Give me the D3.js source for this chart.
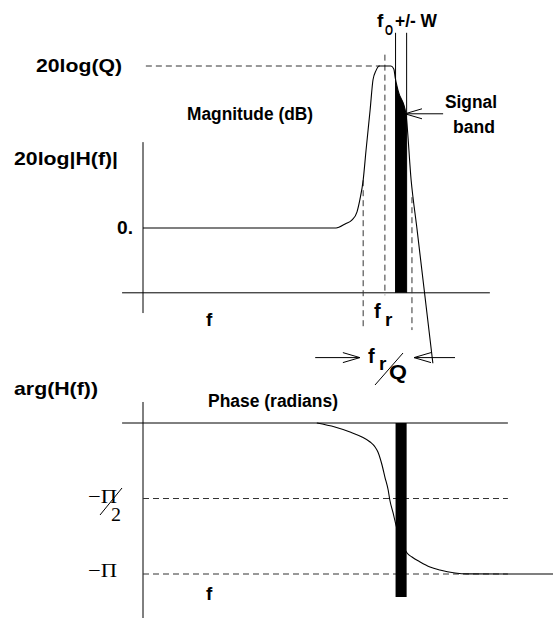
<!DOCTYPE html>
<html>
<head>
<meta charset="utf-8">
<script src="https://cdn.jsdelivr.net/npm/d3@7"></script>
<style>
body { margin: 0; background: #fff; }
text { font-family: "Liberation Sans", Arial, Helvetica, sans-serif; font-weight: bold; fill: #000; }
text.serif { font-family: "Liberation Serif", "Times New Roman", serif; font-weight: normal; }
</style>
</head>
<body>
<div id="graphic"></div>
<script>
// magnitude response, f in arbitrary units, value in dB
var magF  = [0, 47.1, 49.3, 51.0, 52.2, 52.9, 53.7, 54.4, 55.4, 56.1, 56.8, 57.6, 60.5, 61.2, 61.5, 62.2, 64.1, 65.4, 66.8, 70.7];
var magDb = [0, 0, 0.5, 1.0, 2.0, 3.5, 5.9, 9.6, 14.6, 18.3, 19.4, 20, 20, 19.6, 18.6, 17.0, 14.2, 5.9, 0, -16.7];

// phase response, radians
var phF   = [42.4, 46.8, 50.5, 53.4, 55.4, 56.6, 57.3, 58.3, 59.0, 59.8, 60.2, 61.0, 61.7, 64.4, 65.6, 67.6, 70.0, 72.4, 76.1, 79.0, 100];
var phRad = [0, -0.083, -0.187, -0.291, -0.395, -0.499, -0.603, -0.874, -1.124, -1.394, -1.602, -1.872, -2.122, -2.705, -2.788, -2.892, -2.996, -3.058, -3.12, -3.14, -Math.PI];

// key levels
var qDb = 20;            // 20log(Q)
var fr = 59.0;           // resonance
var halfPts = [53.7, 65.6];  // edges of f_r/Q
var f0 = 62.95, W = 1.35;    // signal band

var magData = magF.map(function(f, i) { return {f: f, v: magDb[i]}; });
var phData = phF.map(function(f, i) { return {f: f, v: phRad[i]}; });

var svg = d3.select("#graphic").append("svg")
  .attr("width", 553)
  .attr("height", 618);

var x = d3.scaleLinear().domain([0, 100]).range([143, 553]);
var yM = d3.scaleLinear().domain([0, qDb]).range([228, 66]);
var yP = d3.scaleLinear().domain([0, -Math.PI]).range([423, 574]);

function seg(x1, y1, x2, y2, dashed, col) {
  return svg.append("line")
    .attr("x1", x1).attr("y1", y1).attr("x2", x2).attr("y2", y2)
    .attr("stroke", col || "#000")
    .attr("stroke-width", 1)
    .attr("stroke-dasharray", dashed ? "6,4" : null);
}

// open arrow head at the tip end
function arrow(tailF, tipF, yy) {
  var tx = x(tipF), dir = tipF > tailF ? 1 : -1;
  seg(x(tailF), yy, tx, yy);
  seg(tx, yy, tx - dir * 17, yy - 5);
  seg(tx, yy, tx - dir * 17, yy + 5);
}

function label(str, x0, y0, size, len, cls) {
  var t = svg.append("text")
    .attr("x", x0).attr("y", y0)
    .style("font-size", size + "px")
    .text(str);
  if (len) t.attr("textLength", len).attr("lengthAdjust", "spacingAndGlyphs");
  if (cls) t.attr("class", cls);
  return t;
}

// ---------- magnitude ----------
var magBase = -8;
seg(x(0), yM(10.6), x(0), yM(-10.5));
seg(x(-5.1), yM(magBase), x(84.6), yM(magBase));

// dashed guides
seg(x(0.7), yM(qDb), x(57.8), yM(qDb), true, "#333");
seg(x(fr), yM(21.4), x(fr), yM(-8.3), true, "#333");
seg(x(halfPts[0]), yM(5.9), x(halfPts[0]), yM(-12.6), true, "#333");
seg(x(halfPts[1]), yM(3.8), x(halfPts[1]), yM(-12.6), true, "#333");

// signal band fill under curve
svg.append("clipPath").attr("id", "band")
  .append("rect")
  .attr("x", x(f0 - W)).attr("y", 0)
  .attr("width", x(f0 + W) - x(f0 - W)).attr("height", 618);

var area = d3.area()
  .x(function(d) { return x(d.f); })
  .y0(yM(magBase))
  .y1(function(d) { return yM(d.v); })
  .curve(d3.curveMonotoneX);

svg.append("path")
  .datum(magData)
  .attr("d", area)
  .attr("clip-path", "url(#band)")
  .attr("fill", "#000");

seg(x(f0 - W), yM(24.1), x(f0 - W), yM(magBase));
seg(x(f0 + W), yM(24.1), x(f0 + W), yM(magBase));

var line = d3.line()
  .x(function(d) { return x(d.f); })
  .y(function(d) { return yM(d.v); })
  .curve(d3.curveMonotoneX);

svg.append("path")
  .datum(magData)
  .attr("d", line)
  .attr("fill", "none")
  .attr("stroke", "#000")
  .attr("stroke-width", 1.1);

// signal band pointer
arrow(73.2, 63.9, yM(14.1));
// f_r/Q arrows
arrow(42, 52.9, yM(-16.0));
arrow(76.1, 66.1, yM(-16.0));

// ---------- phase ----------
seg(x(0), yP(0.437), x(0), 618);
seg(x(-5.1), yP(0), x(89), yP(0));
seg(x(0), yP(-Math.PI / 2), x(89), yP(-Math.PI / 2), true, "#333");
seg(x(0), yP(-Math.PI), x(89), yP(-Math.PI), true, "#333");

var pline = d3.line()
  .x(function(d) { return x(d.f); })
  .y(function(d) { return yP(d.v); })
  .curve(d3.curveMonotoneX);

svg.append("path")
  .datum(phData)
  .attr("d", pline)
  .attr("fill", "none")
  .attr("stroke", "#000")
  .attr("stroke-width", 1.1);

svg.append("rect")
  .attr("x", x(f0 - W))
  .attr("y", yP(0))
  .attr("width", x(f0 + W) - x(f0 - W))
  .attr("height", yP(-3.62) - yP(0))
  .attr("fill", "#000");

// ---------- text ----------
label("20log(Q)", 36, yM(qDb) + 6, 19, 86);
label("Magnitude (dB)", 187, 120, 18, 126);
label("20log|H(f)|", 14, 165, 19, 104);
label("0.", 117, yM(0) + 6, 19, 16);
label("f", 206, 326, 19);

label("f", 374, 318, 20);
label("r", 385, 326, 19);

label("f", 377, 27, 19);
label("O", 385, 35, 14, 8);
label("+/- W", 395, 27, 19, 42);

label("Signal", 445, 108, 18, 52);
label("band", 453, 133, 18, 42);

label("f", 368, 363, 20);
label("r", 379, 370, 19);
seg(375, 385, 403, 353);
label("Q", 389, 379, 20, 18);

label("arg(H(f))", 14, 395, 19, 84);
label("Phase (radians)", 208, 407, 18, 130);
label("f", 206, 600, 19);

label("\u2212\u03A0", 88, yP(-Math.PI) + 3, 19, 29, "serif");
label("\u2212\u03A0", 88, yP(-Math.PI / 2) + 4, 19, 29, "serif");
seg(100, 515, 122, 488);
label("2", 111, 521, 19, 10, "serif");
</script>
</body>
</html>
